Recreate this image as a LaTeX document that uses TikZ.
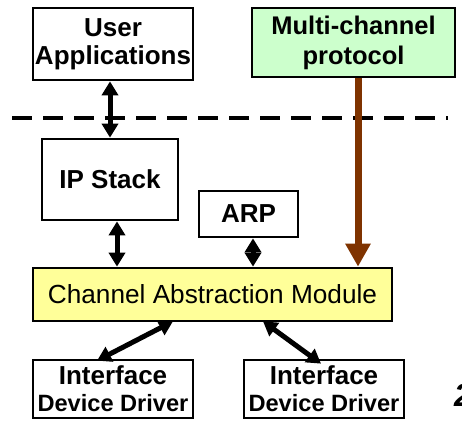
\documentclass[tikz,border=0pt]{standalone}
\usepackage{fontspec}
\setmainfont{Liberation Sans}
\usetikzlibrary{arrows.meta}
\definecolor{brownarrow}{HTML}{7F3300}
\definecolor{mcgreen}{HTML}{CCFFCC}
\definecolor{camyellow}{HTML}{FFFF99}
\begin{document}
\begin{tikzpicture}[x=1pt,y=-1pt,
  box/.style={draw=black,line width=2.7pt,inner sep=0pt,align=center,
    font=\fontsize{26}{28}\selectfont\bfseries},
  dbl/.style={line width=5pt,{Triangle[width=16pt,length=14pt]}-{Triangle[width=16pt,length=14pt]}},
  brownarr/.style={draw=brownarrow,line width=7pt,-{Triangle[width=24pt,length=23pt]}},
  dashline/.style={line width=4pt,dash pattern=on 20pt off 11pt}]
\clip (0,0) rectangle (462,426);
\fill[white] (0,0) rectangle (462,426);
\node[box,minimum width=160pt,minimum height=72pt] (ua) at (113,44) {User\\Applications};
\node[box,fill=mcgreen,minimum width=203pt,minimum height=69pt,
  font=\fontsize{25.5}{30}\selectfont\bfseries] (mc) at (353.5,42.5) {Multi-channel\\protocol};
\node[box,minimum width=136pt,minimum height=81pt] (ip) at (110,179.5) {IP Stack};
\node[box,minimum width=99pt,minimum height=46pt] (arp) at (248.5,214) {ARP};
\node[box,fill=camyellow,minimum width=359pt,minimum height=53pt,
  font=\fontsize{26.2}{28}\selectfont] (cam) at (212.5,294.5) {Channel Abstraction Module};
\node[box,minimum width=160pt,minimum height=58pt,
  font=\fontsize{23.6}{27}\selectfont\bfseries] (dd1) at (113,389) {\fontsize{26}{27}\selectfont Interface\\Device Driver};
\node[box,minimum width=160pt,minimum height=58pt,
  font=\fontsize{23.6}{27}\selectfont\bfseries] (dd2) at (324,389) {\fontsize{26}{27}\selectfont Interface\\Device Driver};
\node[anchor=base west,inner sep=0pt,font=\fontsize{32}{32}\selectfont\bfseries\itshape] (pg) at (454,406) {2};
\coordinate (dl) at (12,118);
\coordinate (dr) at (448,118);
\draw[dashline] (dl) -- (dr);
\draw[dbl] (ip.north) -- (ip.north |- ua.south);
\draw[dbl] ([xshift=7pt]ip.south) -- ([xshift=7pt]ip.south |- cam.north);
\draw[dbl] ([xshift=4.5pt]arp.south) -- ([xshift=4.5pt]arp.south |- cam.north);
\draw[brownarr] ([xshift=4.5pt]mc.south) -- ([xshift=4.5pt]mc.south |- cam.north);
\draw[dbl] ([xshift=-39.5pt,yshift=1pt]cam.south) -- ([xshift=-16pt,yshift=-2pt]dd1.north);
\draw[dbl] ([xshift=50.5pt,yshift=1pt]cam.south) -- ([xshift=-3pt,yshift=-5pt]dd2.north);
\end{tikzpicture}
\end{document}
